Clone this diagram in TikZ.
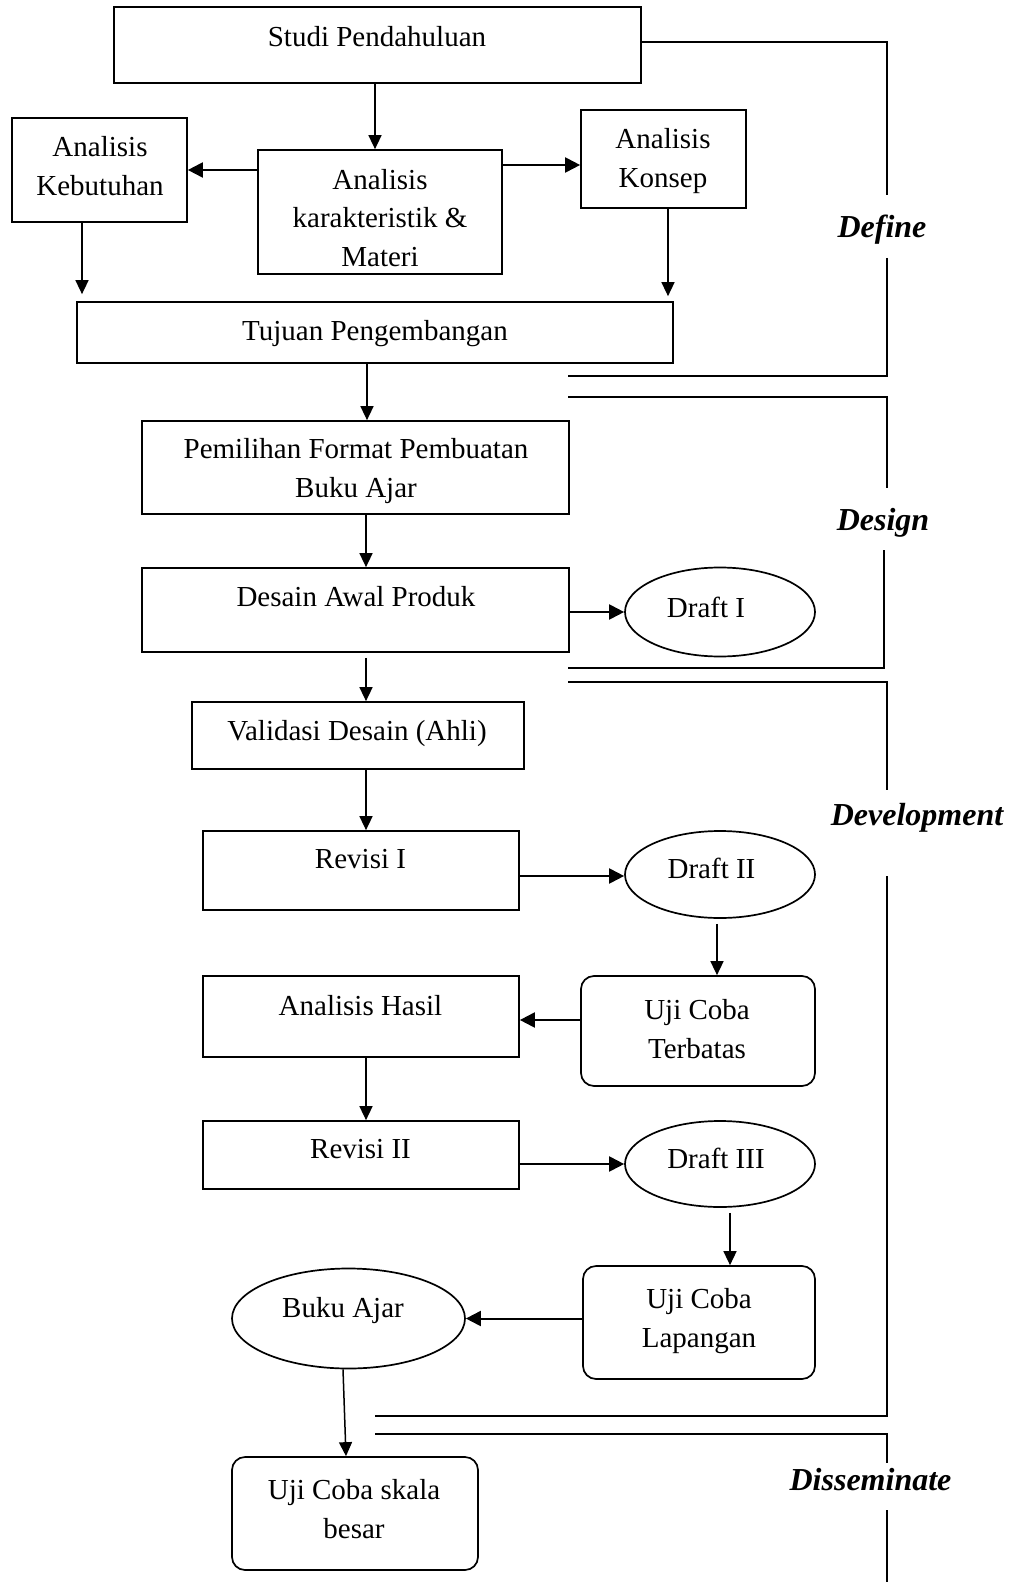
\documentclass[tikz,border=0pt]{standalone}
\usepackage{fontspec}
\setmainfont{Liberation Serif}
\usetikzlibrary{shapes.geometric,arrows.meta}
\begin{document}
\begin{tikzpicture}[x=0.5pt,y=-0.5pt,
  box/.style={draw,line width=0.85pt,rectangle,inner sep=0pt},
  rbox/.style={box,rounded corners=6.5pt},
  oval/.style={draw,line width=0.85pt,ellipse,inner sep=0pt},
  txt/.style={font=\fontsize{14.5}{19.3}\selectfont,align=center,inner sep=0pt},
  phase/.style={font=\fontsize{16}{19}\selectfont\bfseries\itshape,inner sep=0pt},
  arr/.style={line width=0.75pt,-{Triangle[length=7pt,width=6.5pt]}},
  harr/.style={line width=1pt,-{Triangle[length=7.5pt,width=7.5pt]}},
  brk/.style={line width=0.9pt}]
\useasboundingbox (0,0) rectangle (1010,1582);

% boxes
\node[box,minimum width=263.5pt,minimum height=38pt] (studi) at (377.5,45) {};
\node[box,minimum width=87.5pt,minimum height=52pt] (keb) at (99.5,170) {};
\node[box,minimum width=122pt,minimum height=62pt] (akm) at (380,212) {};
\node[box,minimum width=82.5pt,minimum height=49pt] (konsep) at (663.5,159) {};
\node[box,minimum width=298pt,minimum height=30.5pt] (tujuan) at (375,332.5) {};
\node[box,minimum width=213.5pt,minimum height=46.5pt] (pem) at (355.5,467.5) {};
\node[box,minimum width=213.5pt,minimum height=42pt] (desain) at (355.5,610) {};
\node[oval,minimum width=95pt,minimum height=44.5pt] (draft1) at (720,612) {};
\node[box,minimum width=166pt,minimum height=33.5pt] (valid) at (358,735.5) {};
\node[box,minimum width=158pt,minimum height=39.5pt] (rev1) at (361,870.5) {};
\node[oval,minimum width=95pt,minimum height=43.5pt] (draft2) at (720,874.5) {};
\node[rbox,minimum width=117pt,minimum height=55pt] (uct) at (698,1031) {};
\node[box,minimum width=158pt,minimum height=40.5pt] (ah) at (361,1016.5) {};
\node[box,minimum width=158pt,minimum height=34pt] (rev2) at (361,1155) {};
\node[oval,minimum width=95pt,minimum height=43pt] (draft3) at (720,1164) {};
\node[rbox,minimum width=116pt,minimum height=56.5pt] (ucl) at (699,1322.5) {};
\node[oval,minimum width=116.5pt,minimum height=50pt] (buku) at (348.5,1318.5) {};
\node[rbox,minimum width=123pt,minimum height=56.5pt] (ucsb) at (355,1513.5) {};

% texts
\node[txt] (t-studi) at (377,37) {Studi Pendahuluan};
\node[txt] (t-keb) at (100,166) {Analisis\\Kebutuhan};
\node[txt] (t-akm) at (380,218) {Analisis\\karakteristik \&\\Materi};
\node[txt] (t-konsep) at (663,161) {Analisis\\Konsep};
\node[txt] (t-tujuan) at (375,334) {Tujuan Pengembangan};
\node[txt] (t-pem) at (356,471) {Pemilihan Format Pembuatan\\Buku Ajar};
\node[txt] (t-desain) at (356,597) {Desain Awal Produk};
\node[txt] (t-draft1) at (706,607) {Draft I};
\node[txt] (t-valid) at (357,734) {Validasi Desain (Ahli)};
\node[txt] (t-rev1) at (360.5,859) {Revisi I};
\node[txt] (t-draft2) at (711.5,868) {Draft II};
\node[txt] (t-uct) at (697,1029) {Uji Coba\\Terbatas};
\node[txt] (t-ah) at (360.5,1006) {Analisis Hasil};
\node[txt] (t-rev2) at (360.5,1149) {Revisi II};
\node[txt] (t-draft3) at (716,1158) {Draft III};
\node[txt] (t-ucl) at (699,1321) {Uji Coba\\Lapangan};
\node[txt] (t-buku) at (343,1311) {Buku Ajar};
\node[txt] (t-ucsb) at (354,1509) {Uji Coba skala\\besar};

% phase labels
\node[phase] (l-define) at (882,230) {Define};
\node[phase] (l-design) at (883,523) {Design};
\node[phase] (l-dev) at (917,818) {Development};
\node[phase] (l-diss) at (870.5,1480) {Disseminate};

% brackets
\coordinate (d1) at (887,42);
\draw[brk] (studi.east |- d1) -- (d1) -- (887,195);
\draw[brk] (887,258) -- (887,376) -- (568,376);
\draw[brk] (568,397) -- (887,397) -- (887,488);
\draw[brk] (884,550) -- (884,668) -- (568,668);
\draw[brk] (568,682) -- (887,682) -- (887,790);
\draw[brk] (887,876) -- (887,1416) -- (375,1416);
\draw[brk] (375,1434) -- (887,1434) -- (887,1463);
\draw[brk] (887,1510) -- (887,1582);

% helper columns / rows
\coordinate (c375) at (375,0);
\coordinate (c82) at (82,0);
\coordinate (c668) at (668,0);
\coordinate (c367) at (367,0);
\coordinate (c366) at (366,0);
\coordinate (c717) at (717,0);
\coordinate (c730) at (730,0);
\coordinate (c343) at (343,0);
\coordinate (c346) at (346,0);
\coordinate (r165) at (0,165);
\coordinate (r876) at (0,876);
\coordinate (r1020) at (0,1020);

% connectors
\draw[arr] (studi.south -| c375) -- (akm.north -| c375);
\draw[harr] (akm.west |- keb.east) -- (keb.east);
\draw[harr] (akm.east |- r165) -- (konsep.west |- r165);
\draw[arr,shorten >=3.5pt] (keb.south -| c82) -- (tujuan.north -| c82);
\draw[arr,shorten >=2.5pt] (konsep.south -| c668) -- (tujuan.north -| c668);
\draw[arr] (tujuan.south -| c367) -- (pem.north -| c367);
\draw[arr] (pem.south -| c366) -- (desain.north -| c366);
\draw[harr] (desain.east |- draft1.west) -- (draft1.west);
\draw[arr,shorten <=2.5pt] (desain.south -| c366) -- (valid.north -| c366);
\draw[arr] (valid.south -| c366) -- (rev1.north -| c366);
\draw[harr] (rev1.east |- r876) -- (draft2.west |- r876);
\draw[arr,shorten <=2.5pt] (draft2.south -| c717) -- (uct.north -| c717);
\draw[harr] (uct.west |- r1020) -- (ah.east |- r1020);
\draw[arr] (ah.south -| c366) -- (rev2.north -| c366);
\draw[harr] (rev2.east |- draft3.west) -- (draft3.west);
\draw[arr,shorten <=2.5pt] (draft3.south -| c730) -- (ucl.north -| c730);
\draw[harr] (ucl.west |- buku.east) -- (buku.east);
\draw[arr] (buku.south -| c343) -- (ucsb.north -| c346);
\end{tikzpicture}
\end{document}
